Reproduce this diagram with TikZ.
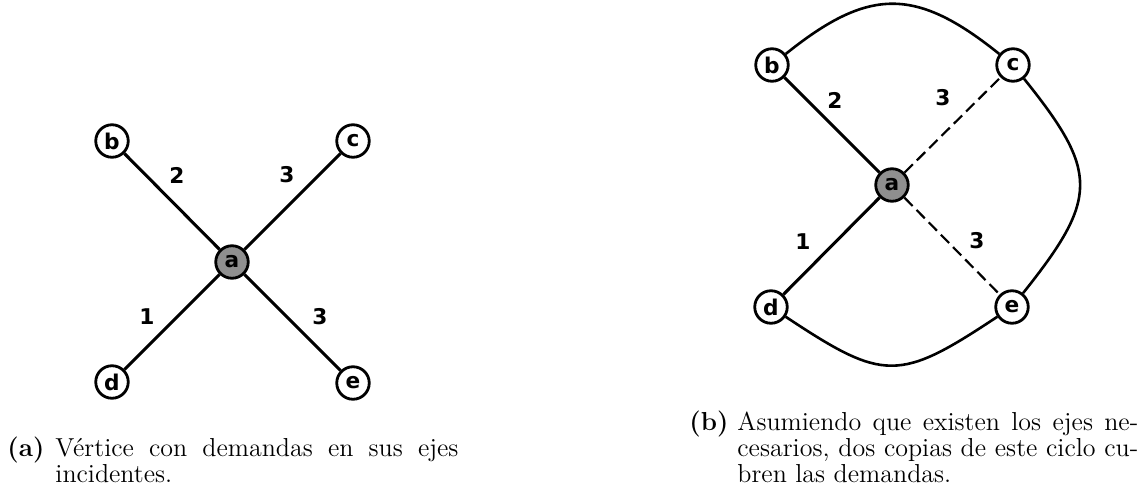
\documentclass[tikz,border=0pt]{standalone}
\usepackage{fontspec}
\newfontfamily\gsans{DejaVu Sans}
\definecolor{agray}{gray}{0.56}
\tikzset{
  vtx/.style={circle, draw=black, line width=1.3pt, fill=white, minimum size=15pt, inner sep=0pt, font=\gsans\bfseries\fontsize{10}{12}\selectfont},
  ctr/.style={vtx, fill=agray},
  lab/.style={inner sep=0pt, font=\gsans\bfseries\fontsize{10}{12}\selectfont},
  edg/.style={line width=1.4pt},
  dsh/.style={line width=1pt, dash pattern=on 5.4pt off 2.6pt},
  arcl/.style={line width=1.2pt},
  captxt/.style={anchor=base west, inner sep=0pt, font=\fontsize{12}{12}\selectfont},
}
\begin{document}
\begin{tikzpicture}[x=0.4615pt, y=-0.4615pt]
\useasboundingbox (0,0) rectangle (1148,498);
% left graph
\node[ctr] (la) at (232,262) {a};
\node[vtx] (lb) at (112,141) {b};
\node[vtx] (lc) at (353,141) {c};
\node[vtx] (ld) at (112,382) {d};
\node[vtx] (le) at (353,383) {e};
\draw[edg] (la) -- (lb);
\draw[edg] (la) -- (lc);
\draw[edg] (la) -- (ld);
\draw[edg] (la) -- (le);
\node[lab] (l2) at (177,175) {2};
\node[lab] (l3a) at (287,175) {3};
\node[lab] (l1) at (147,317) {1};
\node[lab] (l3b) at (320,317) {3};
% right graph
\node[ctr] (ra) at (892,185) {a};
\node[vtx] (rb) at (772,65) {b};
\node[vtx] (rc) at (1013,65) {c};
\node[vtx] (rd) at (771,307) {d};
\node[vtx] (re) at (1012,307) {e};
\draw[edg] (ra) -- (rb);
\draw[edg] (ra) -- (rd);
\draw[dsh] (ra) -- (rc);
\draw[dsh] (ra) -- (re);
\draw[arcl] (rb) .. controls (869,-13) and (916,-13) .. (rc);
\draw[arcl] (rc) .. controls (1099,172) and (1099,198) .. (re);
\draw[arcl] (rd) .. controls (884,382) and (899,382) .. (re);
\node[lab] (r2) at (835,100) {2};
\node[lab] (r3a) at (943,98) {3};
\node[lab] (r1) at (803,242) {1};
\node[lab] (r3b) at (977,241) {3};
% captions
\node[captxt] (capa) at (7,456) {\textbf{(a)}};
\node[captxt] (capat) at (55,456) {\parbox[t]{186pt}{V\'ertice con demandas en sus ejes\linebreak incidentes.}};
\node[captxt] (capb) at (689,430) {\textbf{(b)}};
\node[captxt] (capbt) at (737,430) {\parbox[t]{185pt}{Asumiendo que existen los ejes ne-\linebreak cesarios, dos copias de este ciclo cu-\linebreak bren las demandas.}};
\end{tikzpicture}
\end{document}
